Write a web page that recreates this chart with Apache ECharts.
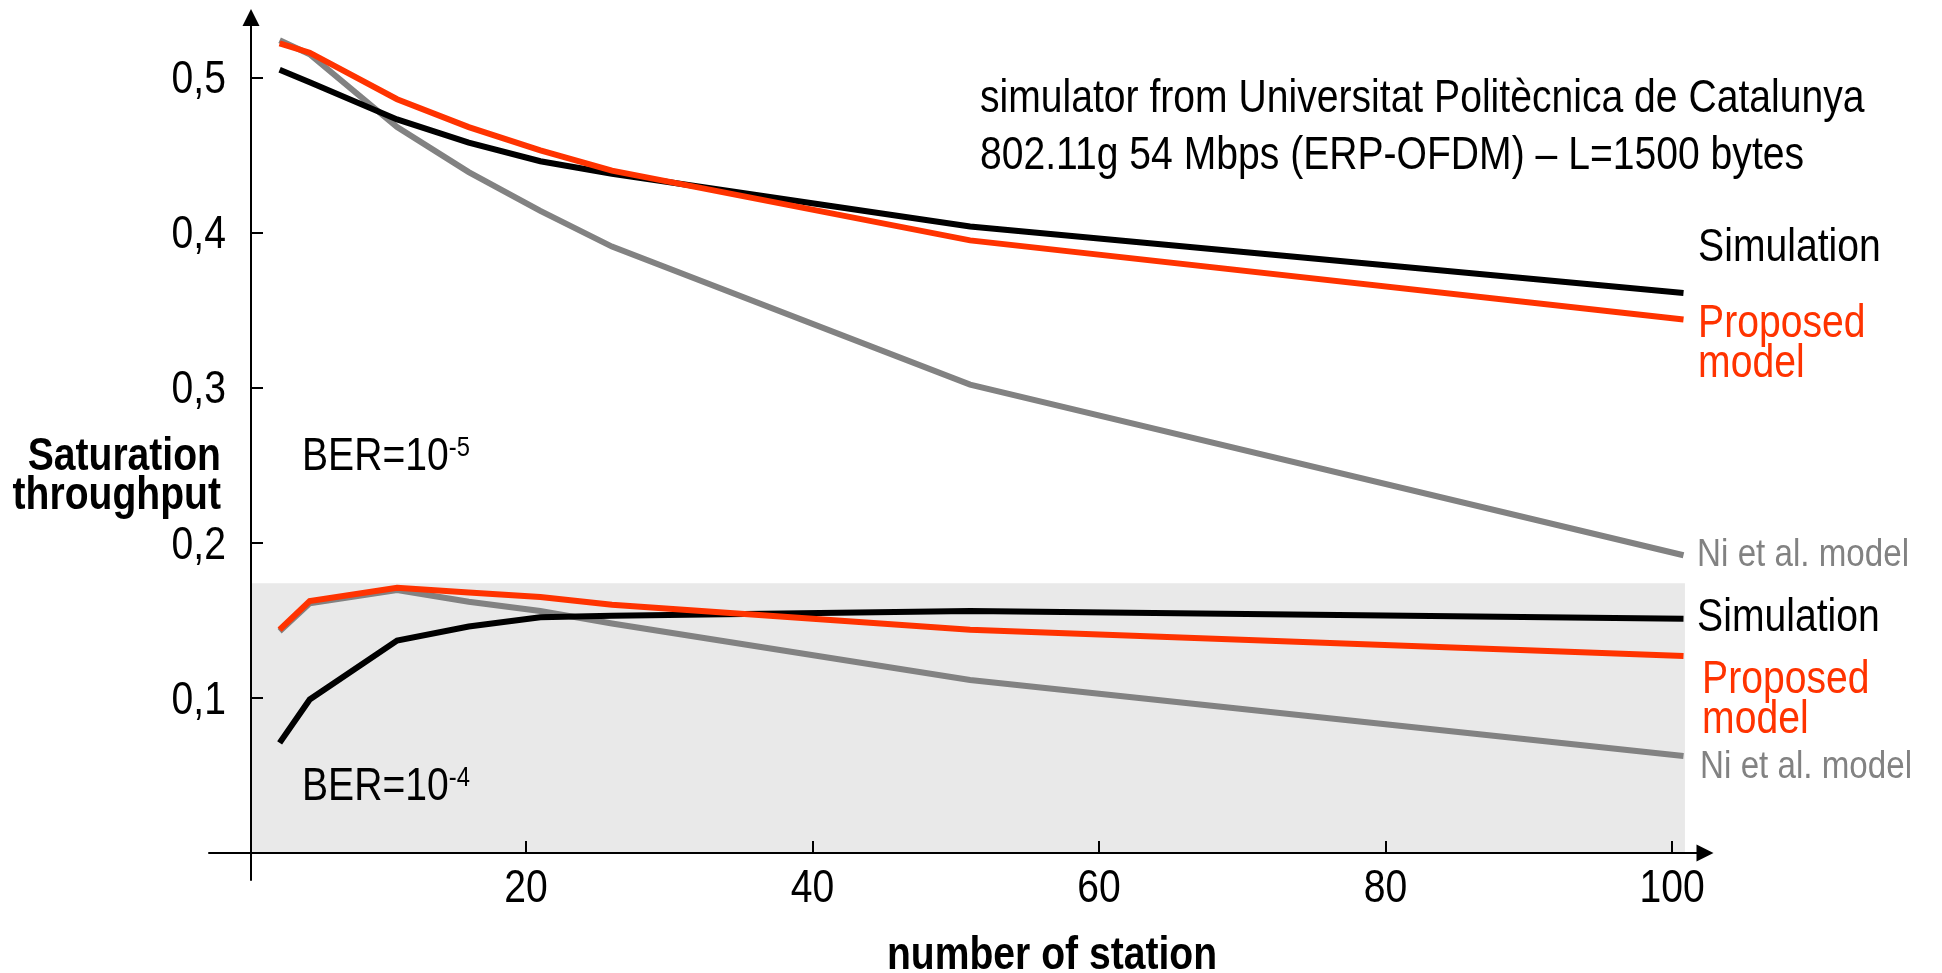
<!DOCTYPE html>
<html>
<head>
<meta charset="utf-8">
<script src="https://cdn.jsdelivr.net/npm/echarts@6/dist/echarts.min.js"></script>
<style>
html,body{margin:0;padding:0;background:#fff;}
#chart{width:1942px;height:973px;}
</style>
</head>
<body>
<div id="chart"></div>
<script>
// ---- data ----
const stations = [2.8, 4.9, 11, 16, 21, 26, 51, 100.8];
// BER = 1e-5
const sim5  = [0.505, 0.497, 0.473, 0.458, 0.446, 0.438, 0.404, 0.361];
const prop5 = [0.522, 0.516, 0.486, 0.468, 0.453, 0.440, 0.395, 0.344];
const ni5   = [0.524, 0.515, 0.468, 0.439, 0.414, 0.391, 0.302, 0.192];
// BER = 1e-4
const sim4  = [0.071, 0.099, 0.137, 0.146, 0.152, 0.153, 0.156, 0.151];
const prop4 = [0.144, 0.1625, 0.171, 0.168, 0.165, 0.160, 0.144, 0.127];
const ni4   = [0.143, 0.161, 0.1696, 0.162, 0.156, 0.148, 0.1115, 0.0625];

const xTicks = [20, 40, 60, 80, 100];
const yTicks = [0.1, 0.2, 0.3, 0.4, 0.5];
const shadedBand = { xFrom: 0.8, xTo: 100.9, yFrom: 0, yTo: 0.174 };

const titleLines = ['simulator from Universitat Politècnica de Catalunya', '802.11g 54 Mbps (ERP-OFDM) – L=1500 bytes'];
const yNameLines = ['Saturation', 'throughput'];
const xName = 'number of station';
const berLabels = [['BER=10', '-5'], ['BER=10', '-4']];

// ---- styles ----
const FONT = '"Liberation Sans", Arial, sans-serif';
const FS = 46;
const SX = 0.85;   // condensed look of the original typeface
const RED = '#ff3300', GRAY = '#828282', BLACK = '#000000';

function pts(ys) { return stations.map((x, i) => [x, ys[i]]); }

const seriesDefs = [
  { name: 'Ni et al. model (BER=1e-5)', ys: ni5,   color: GRAY,  label: 'Ni et al. model', size: 39, off: [13.6, 0],   z: 2 },
  { name: 'Simulation (BER=1e-5)',      ys: sim5,  color: BLACK, label: 'Simulation',      size: FS, off: [14.6, -45], z: 3 },
  { name: 'Proposed model (BER=1e-5)',  ys: prop5, color: RED,   label: 'Proposed\nmodel', size: FS, off: [14.6, 5],   z: 4 },
  { name: 'Ni et al. model (BER=1e-4)', ys: ni4,   color: GRAY,  label: 'Ni et al. model', size: 39, off: [16.6, 11],  z: 2 },
  { name: 'Simulation (BER=1e-4)',      ys: sim4,  color: BLACK, label: 'Simulation',      size: FS, off: [13.6, -1],  z: 3 },
  { name: 'Proposed model (BER=1e-4)',  ys: prop4, color: RED,   label: 'Proposed\nmodel', size: FS, off: [18.6, 24],  z: 4 }
];

const chart = echarts.init(document.getElementById('chart'), null, { renderer: 'canvas' });
const option = {
  animation: false,
  backgroundColor: '#ffffff',
  grid: { left: 209, top: 17.5, width: 1496, height: 862.5, outerBoundsMode: 'none', containLabel: false },
  xAxis: {
    type: 'value', min: -2.13, max: 102.3, z: 5,
    splitLine: { show: false },
    axisLine: { show: true, onZero: true, symbol: ['none', 'triangle'], symbolSize: [17, 17], lineStyle: { color: '#000', width: 2 } },
    axisTick: { show: true, inside: true, length: 12, customValues: xTicks, lineStyle: { color: '#000', width: 2 } },
    axisLabel: { show: false }
  },
  yAxis: {
    type: 'value', min: -0.0174, max: 0.5387, z: 5, offset: -42,
    splitLine: { show: false },
    axisLine: { show: true, onZero: false, symbol: ['none', 'triangle'], symbolSize: [17, 17], lineStyle: { color: '#000', width: 2 } },
    axisTick: { show: true, inside: true, length: 12, customValues: yTicks, lineStyle: { color: '#000', width: 2 } },
    axisLabel: { show: false }
  },
  series: [
    {
      type: 'line', name: 'band', data: [], z: 0, silent: true,
      markArea: {
        silent: true,
        itemStyle: { color: '#e9e9e9' },
        data: [[{ coord: [shadedBand.xFrom, shadedBand.yFrom] }, { coord: [shadedBand.xTo, shadedBand.yTo] }]]
      }
    }
  ].concat(seriesDefs.map(d => ({
    type: 'line', name: d.name, data: pts(d.ys), symbol: 'none', z: d.z,
    lineStyle: { color: d.color, width: 6, cap: 'butt', join: 'miter' },
    emphasis: { disabled: true }
  })))
};
chart.setOption(option);

// ---- texts (condensed via scaleX), anchored through the chart's own scales ----
const px = v => chart.convertToPixel({ xAxisIndex: 0 }, v);
const py = v => chart.convertToPixel({ yAxisIndex: 0 }, v);
function txt(text, x, y, opt) {
  opt = opt || {};
  return {
    type: 'text', x: x, y: y, scaleX: SX, silent: true, z: 10,
    style: {
      text: text, fill: opt.color || '#000', fontFamily: FONT, fontSize: opt.size || FS,
      fontWeight: opt.weight || 'normal', align: opt.align || 'left', verticalAlign: 'middle',
      lineHeight: opt.lineHeight || (opt.size || FS)
    }
  };
}
const axisX = px(shadedBand.xFrom);
const graphics = [];
yTicks.forEach(v => graphics.push(txt(v.toFixed(1).replace('.', ','), axisX - 25, py(v) + 3, { align: 'right' })));
xTicks.forEach(v => graphics.push(txt(String(v), px(v), py(0) + 36, { align: 'center' })));
graphics.push(txt(titleLines[0], 980, 99));
graphics.push(txt(titleLines[1], 980, 156));
graphics.push(txt(yNameLines[0], 221, 457, { align: 'right', weight: 'bold' }));
graphics.push(txt(yNameLines[1], 221, 496, { align: 'right', weight: 'bold' }));
graphics.push(txt(xName, 1052, 956, { align: 'center', weight: 'bold' }));
seriesDefs.forEach(d => {
  const last = d.ys.length - 1;
  const p = chart.convertToPixel({ gridIndex: 0 }, [stations[last], d.ys[last]]);
  const lines = d.label.split('\n').length;
  graphics.push(txt(d.label, p[0] + d.off[0], p[1] + d.off[1] + (lines - 1) * 20, { color: d.color, size: d.size, lineHeight: 40 }));
});
[[berLabels[0], 302, 457], [berLabels[1], 302, 787]].forEach(([parts, x, y]) => {
  graphics.push({
    type: 'text', x: x, y: y, scaleX: SX, silent: true, z: 10,
    style: {
      text: '{a|' + parts[0] + '}{s|' + parts[1] + '}', align: 'left', verticalAlign: 'middle',
      rich: {
        a: { fontFamily: FONT, fontSize: FS, lineHeight: 46, fill: '#000', color: '#000' },
        s: { fontFamily: FONT, fontSize: 28, lineHeight: 28, verticalAlign: 'top', fill: '#000', color: '#000' }
      }
    }
  });
});
chart.setOption({ graphic: graphics });
</script>
</body>
</html>
